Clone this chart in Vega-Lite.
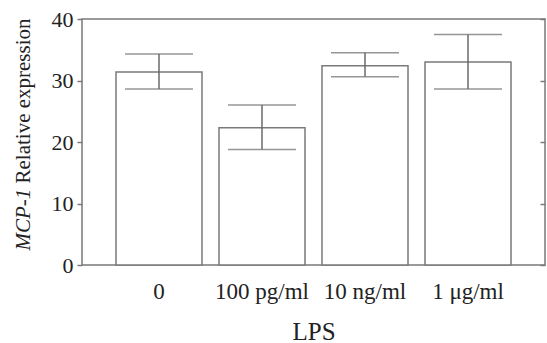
{
  "$schema": "https://vega.github.io/schema/vega-lite/v6.json",
  "autosize": "none",
  "width": 463,
  "height": 246,
  "padding": {"left": 82, "top": 19, "right": 2, "bottom": 78},
  "background": "white",
  "config": {
    "view": {"stroke": "#7a7a7a", "strokeWidth": 1.5},
    "font": "Liberation Serif"
  },
  "data": {"values": [
    {"dose": "0", "mean": 31.4, "lo": 28.6, "hi": 34.3},
    {"dose": "100 pg/ml", "mean": 22.3, "lo": 18.8, "hi": 26.0},
    {"dose": "10 ng/ml", "mean": 32.4, "lo": 30.6, "hi": 34.5},
    {"dose": "1 μg/ml", "mean": 33.0, "lo": 28.6, "hi": 37.5}
  ]},
  "encoding": {
    "x": {
      "field": "dose", "type": "nominal", "sort": null,
      "scale": {"paddingInner": 0.165, "paddingOuter": 0.33},
      "axis": {"title": "LPS", "labelAngle": 0, "ticks": false, "domain": false,
        "labelFont": "Liberation Serif", "labelFontSize": 23, "labelColor": "#222", "labelPadding": 15,
        "titleFont": "Liberation Serif", "titleFontSize": 25, "titleFontWeight": "normal", "titleColor": "#222", "titlePadding": 16}
    }
  },
  "layer": [
    {
      "mark": {"type": "bar", "fill": "white", "stroke": "#7a7a7a", "strokeWidth": 1.5},
      "encoding": {
        "y": {"field": "mean", "type": "quantitative",
          "scale": {"domain": [0, 40], "nice": false},
          "axis": {"values": [0, 10, 20, 30, 40], "grid": false, "domain": false,
            "tickColor": "#7a7a7a", "tickSize": 5, "tickWidth": 1.5,
            "labelFont": "Liberation Serif", "labelFontSize": 22, "labelColor": "#222", "labelPadding": 4,
            "title": "Relative expression",
            "titleFont": "Liberation Serif", "titleFontSize": 21, "titleFontWeight": "normal", "titleColor": "#222",
            "titleAngle": -90, "titleAlign": "left", "titleBaseline": "bottom",
            "titleX": -49, "titleY": 164}
        }
      }
    },
    {
      "mark": {"type": "rule", "stroke": "#6a6a6a", "strokeWidth": 1.5},
      "encoding": {
        "y": {"field": "lo", "type": "quantitative",
          "axis": {"orient": "right", "values": [0, 10, 20, 30, 40], "labels": false, "domain": false, "grid": false,
            "tickSize": -5, "tickColor": "#7a7a7a", "tickWidth": 1.5,
            "title": "MCP-1",
            "titleFont": "Liberation Serif", "titleFontSize": 21, "titleFontWeight": "normal", "titleFontStyle": "italic", "titleColor": "#222",
            "titleAngle": -90, "titleAlign": "left", "titleBaseline": "bottom",
            "titleX": -512, "titleY": 231}},
        "y2": {"field": "hi"}
      }
    },
    {
      "mark": {"type": "tick", "color": "#6a6a6a", "thickness": 1.5, "size": 68, "orient": "horizontal"},
      "encoding": {"y": {"field": "lo", "type": "quantitative", "axis": null}}
    },
    {
      "mark": {"type": "tick", "color": "#6a6a6a", "thickness": 1.5, "size": 68, "orient": "horizontal"},
      "encoding": {"y": {"field": "hi", "type": "quantitative", "axis": null}}
    }
  ],
  "resolve": {"axis": {"y": "independent"}}
}
